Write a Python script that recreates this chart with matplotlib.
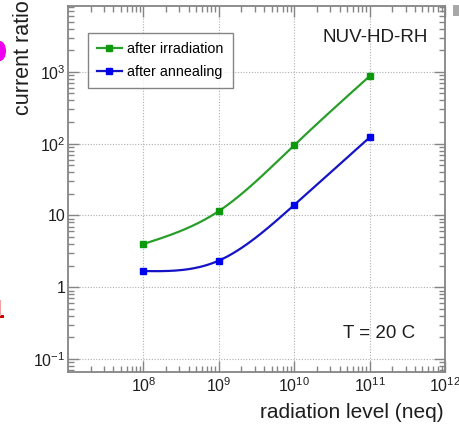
import numpy as np
import matplotlib.pyplot as plt
from matplotlib.ticker import LogLocator, FixedLocator, FixedFormatter, NullFormatter
from matplotlib.patches import Rectangle, Ellipse
from matplotlib.lines import Line2D

plt.rcParams['font.family'] = ['Liberation Sans', 'DejaVu Sans']
plt.rcParams['mathtext.fontset'] = 'custom'
plt.rcParams['mathtext.rm'] = 'Liberation Sans'
plt.rcParams['mathtext.it'] = 'Liberation Sans'

# radiation levels (neq) and measured current ratios
fluence = [1e8, 1e9, 1e10, 1e11]
ratio_irradiation = [4.0, 11.5, 95.0, 870.0]
ratio_annealing = [1.68, 2.35, 14.0, 122.0]

xticks = [1e8, 1e9, 1e10, 1e11, 1e12]
xticklabels = ['$10^{8}$', '$10^{9}$', '$10^{10}$', '$10^{11}$', '$10^{12}$']
yticks = [1e-1, 1, 10, 1e2, 1e3]
yticklabels = ['$10^{-1}$', '1', '10', '$10^{2}$', '$10^{3}$']

GREEN_M, GREEN_L = '#0c9a0c', '#2a9e2a'
BLUE_M, BLUE_L = '#0000ee', '#1414c4'
FRAME = '#858585'
TXT = '#1e1e1e'


def spline_loglog(xs, ys, n=200):
    # natural cubic spline through the points in log-log space
    lx = np.log10(xs)
    ly = np.log10(ys)
    k = len(lx)
    h = np.diff(lx)
    A = np.zeros((k, k))
    b = np.zeros(k)
    A[0, 0] = A[-1, -1] = 1.0
    for i in range(1, k - 1):
        A[i, i - 1] = h[i - 1]
        A[i, i] = 2 * (h[i - 1] + h[i])
        A[i, i + 1] = h[i]
        b[i] = 6 * ((ly[i + 1] - ly[i]) / h[i] - (ly[i] - ly[i - 1]) / h[i - 1])
    M = np.linalg.solve(A, b)
    xx = np.linspace(lx[0], lx[-1], n)
    yy = np.empty_like(xx)
    for j, x in enumerate(xx):
        i = min(np.searchsorted(lx, x, side='right') - 1, k - 2)
        t0 = lx[i + 1] - x
        t1 = x - lx[i]
        yy[j] = (M[i] * t0 ** 3 + M[i + 1] * t1 ** 3) / (6 * h[i]) \
            + (ly[i] / h[i] - M[i] * h[i] / 6) * t0 \
            + (ly[i + 1] / h[i] - M[i + 1] * h[i] / 6) * t1
    return 10 ** xx, 10 ** yy


fig = plt.figure(figsize=(4.6, 4.25), dpi=100)
ax = fig.add_axes([68 / 460, 1 - 372 / 425, (445 - 68) / 460, (372 - 6) / 425])
ax.set_xscale('log')
ax.set_yscale('log')
ax.set_xlim(1e7, 1e12)
ax.set_ylim(10 ** -1.18, 10 ** 3.917)

for xs, ys, cm, cl in [(fluence, ratio_irradiation, GREEN_M, GREEN_L),
                       (fluence, ratio_annealing, BLUE_M, BLUE_L)]:
    sx, sy = spline_loglog(xs, ys)
    ax.plot(sx, sy, color=cl, lw=1.6, zorder=3)
    ax.plot(xs, ys, 's', color=cm, ms=5, zorder=4)

ax.xaxis.set_major_locator(FixedLocator(xticks))
ax.xaxis.set_major_formatter(FixedFormatter(xticklabels))
ax.yaxis.set_major_locator(FixedLocator(yticks))
ax.yaxis.set_major_formatter(FixedFormatter(yticklabels))
ax.xaxis.set_minor_locator(LogLocator(base=10, subs=np.arange(2, 10), numticks=20))
ax.yaxis.set_minor_locator(LogLocator(base=10, subs=np.arange(2, 10), numticks=20))
ax.xaxis.set_minor_formatter(NullFormatter())
ax.yaxis.set_minor_formatter(NullFormatter())

ax.tick_params(which='both', direction='in', top=True, right=True,
               color=FRAME, labelsize=11.5, labelcolor=TXT)
ax.tick_params(which='major', length=8, width=1.0)
ax.tick_params(which='minor', length=4.5, width=1.0)
ax.tick_params(axis='x', pad=3)
ax.tick_params(axis='y', pad=2)
for s in ax.spines.values():
    s.set_color(FRAME)
    s.set_linewidth(1.3)

ax.grid(True, which='major', color='#b0b0b0', lw=0.8, ls=(0, (1, 1.5)))
ax.set_axisbelow(True)

# legend
handles = [Line2D([], [], color=GREEN_L, lw=1.6, marker='s', ms=4.5, mfc=GREEN_M, mec=GREEN_M),
           Line2D([], [], color=BLUE_L, lw=1.6, marker='s', ms=4.5, mfc=BLUE_M, mec=BLUE_M)]
leg = ax.legend(handles, ['after irradiation', 'after annealing'],
                loc='upper left', bbox_to_anchor=(20 / 377, 1 - 27 / 366),
                fontsize=10.3, frameon=True, fancybox=False, handlelength=1.7,
                handletextpad=0.4, borderpad=0.65, labelspacing=0.6,
                borderaxespad=0)
leg.get_frame().set_edgecolor('#666666')
leg.get_frame().set_linewidth(1.0)

ax.text(0.955, 0.915, 'NUV-HD-RH', transform=ax.transAxes, ha='right', va='center',
        fontsize=13.5, color=TXT)
ax.text(0.92, 0.105, 'T = 20 C', transform=ax.transAxes, ha='right', va='center',
        fontsize=13.5, color=TXT)

fig.text(444 / 460, 1 - 413 / 425, 'radiation level (neq)', ha='right', va='center',
         fontsize=15, color=TXT)
fig.text(24 / 460, 1 - 0 / 425, 'current ratio', ha='center', va='top',
         rotation=90, fontsize=15.5, color=TXT)

# bits of neighbouring slide content at the edges
fig.patches.append(Ellipse((0 / 460, 1 - 51 / 425), 12 / 460, 20 / 425,
                           transform=fig.transFigure, color='#ee00ee', lw=0))
fig.patches.append(Rectangle((0, 1 - 318 / 425), 4 / 460, 3 / 425,
                             transform=fig.transFigure, color='#cc0000', lw=0))
fig.patches.append(Rectangle((0, 1 - 316 / 425), 1.5 / 460, 16 / 425,
                             transform=fig.transFigure, color='#f0a0a0', lw=0))
fig.patches.append(Rectangle((453 / 460, 1 - 16 / 425), 7 / 460, 11 / 425,
                             transform=fig.transFigure, color='#a8a8a8', lw=0))

fig.savefig('out.png', dpi=100)
